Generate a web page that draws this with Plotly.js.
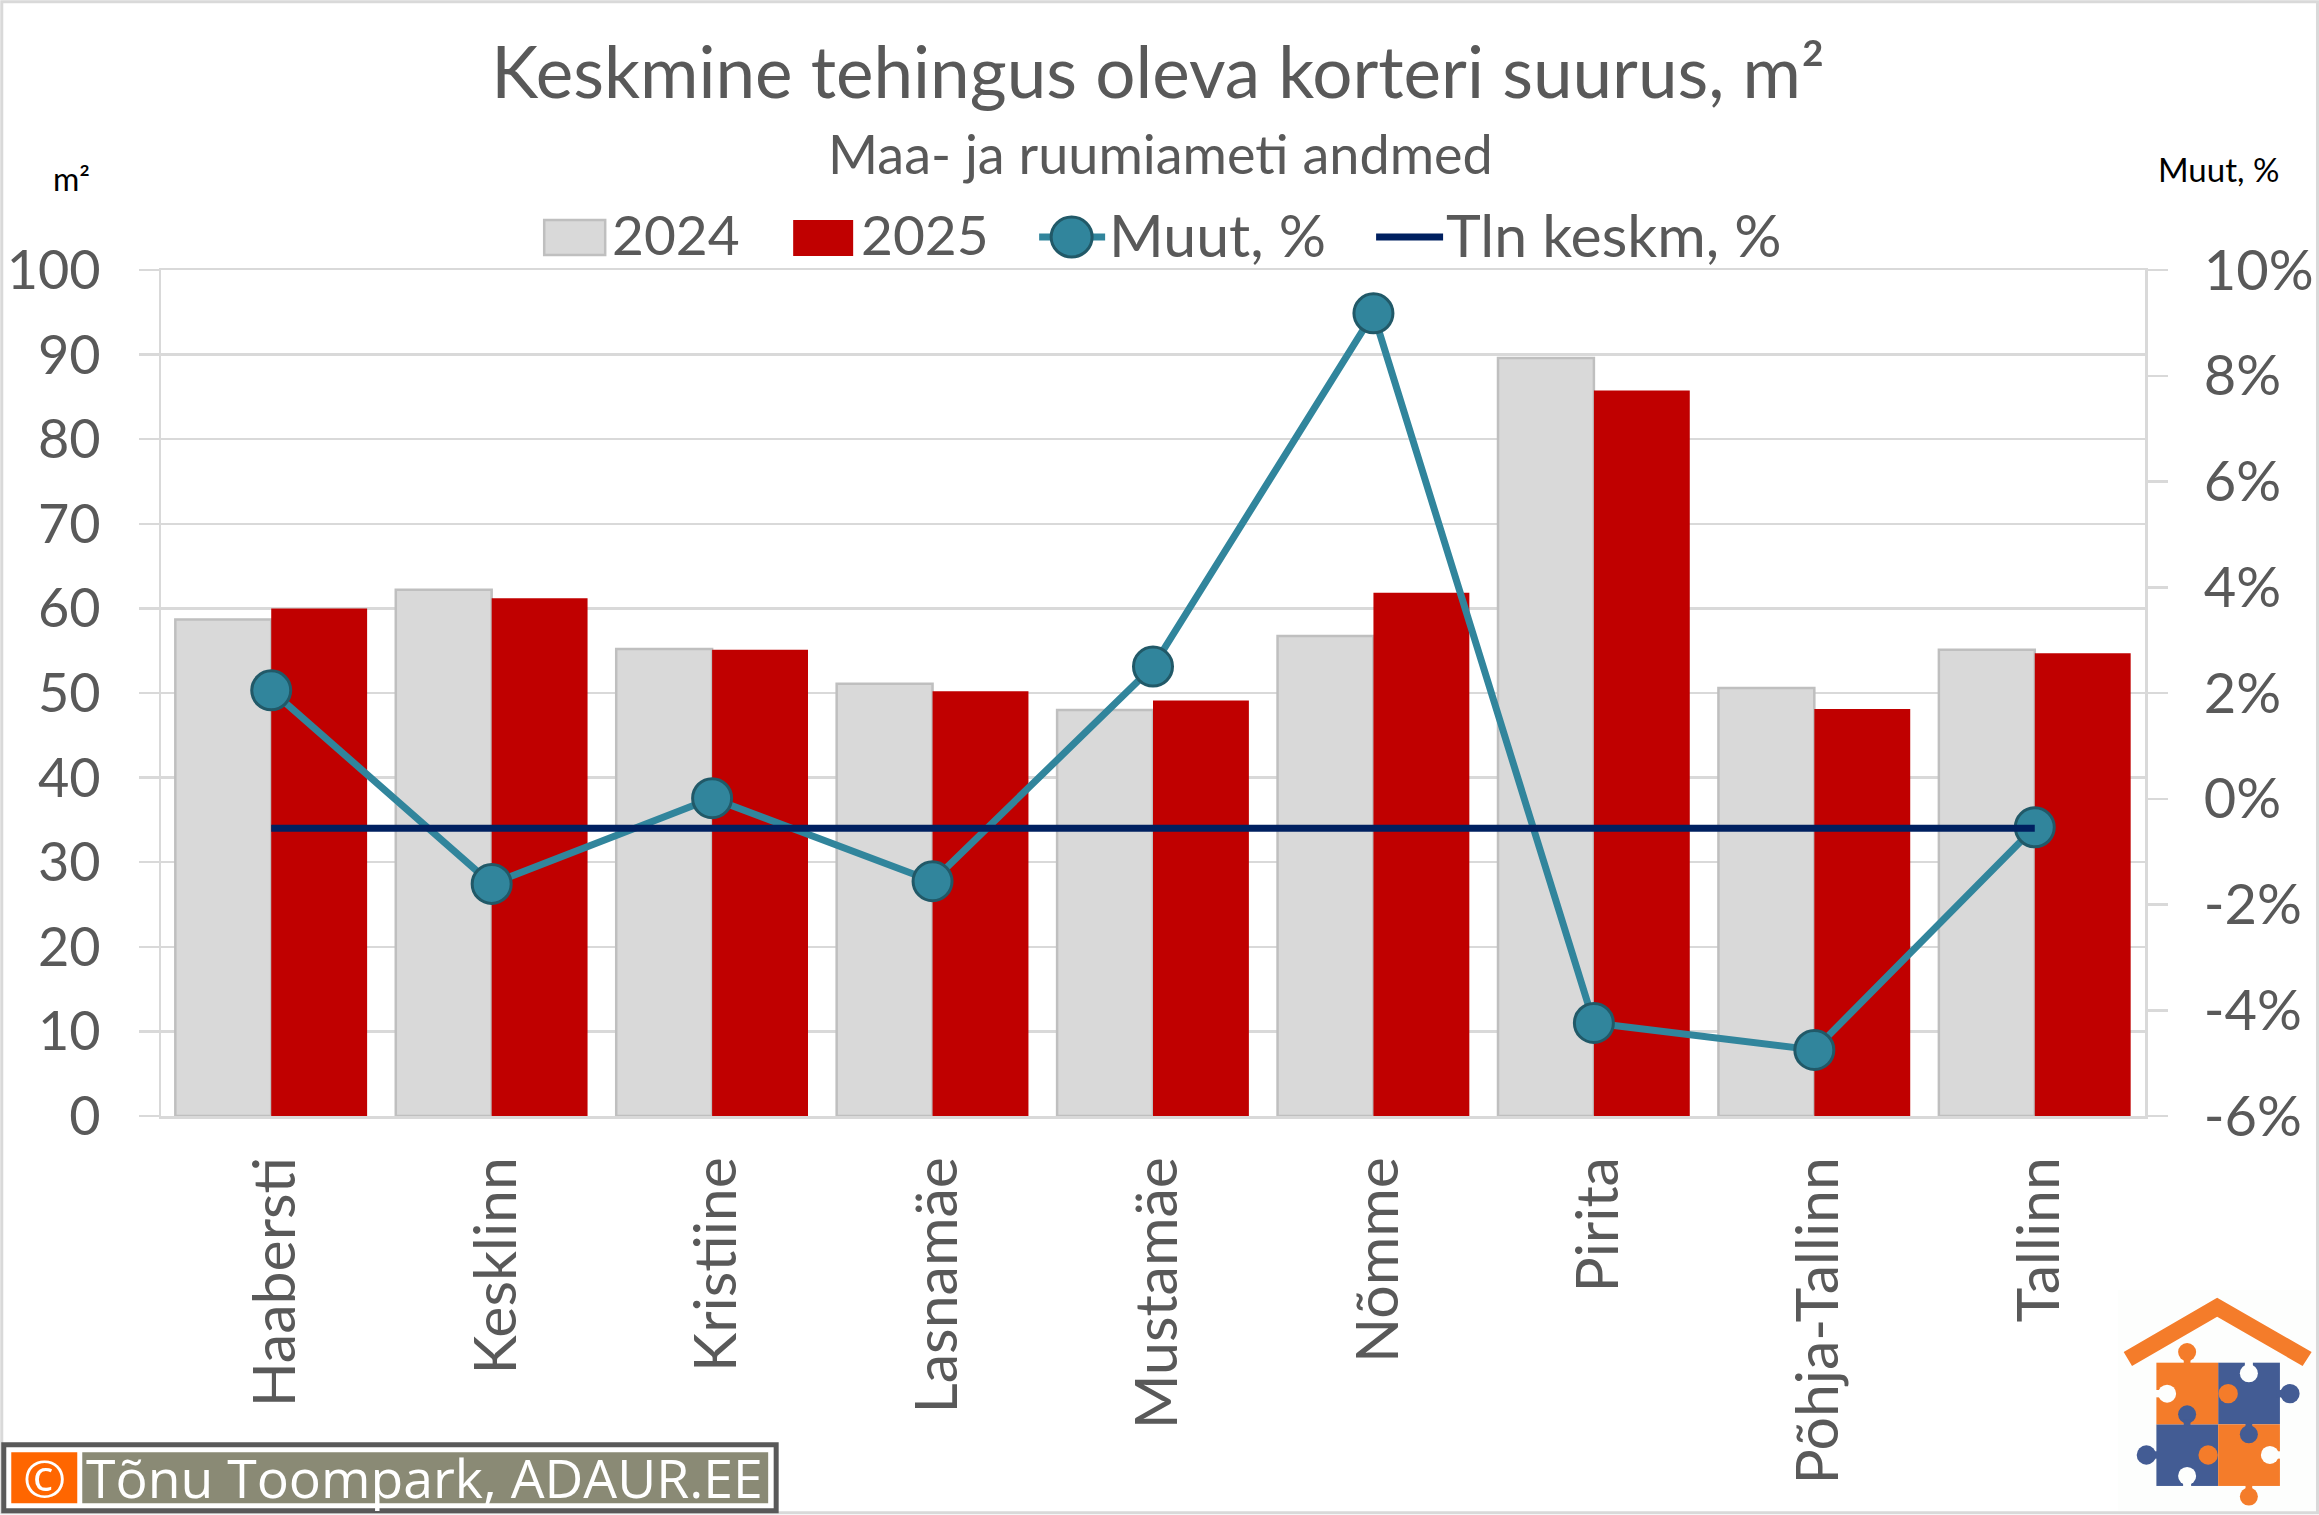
<!DOCTYPE html>
<html>
<head>
<meta charset="utf-8">
<script src="https://cdn.plot.ly/plotly-3.0.1.min.js"></script>
<style>html,body{margin:0;padding:0;background:#fff}#chart{width:2319px;height:1515px}</style>
</head>
<body>
<div id="chart"></div>
<script>
const categories = ["Haabersti","Kesklinn","Kristiine","Lasnamäe","Mustamäe","Nõmme","Pirita","Põhja-Tallinn","Tallinn"];
const values2024 = [58.7,62.2,55.2,51.1,48.0,56.75,89.6,50.6,55.1];
const values2025 = [60.0,61.2,55.1,50.2,49.1,61.85,85.75,48.1,54.7];
const muut = [2.05,-1.61,0.01,-1.56,2.5,9.18,-4.24,-4.75,-0.54];
const tlnKeskm = [-0.56,-0.56,-0.56,-0.56,-0.56,-0.56,-0.56,-0.56,-0.56];
const leftTicks = [0,10,20,30,40,50,60,70,80,90,100];
const rightTickVals = [-6,-4,-2,0,2,4,6,8,10];
const rightTickText = ["-6%","-4%","-2%","0%","2%","4%","6%","8%","10%"];
const titleText = "Keskmine tehingus oleva korteri suurus, m²";
const subtitleText = "Maa- ja ruumiameti andmed";
const creditText = "Tõnu Toompark, ADAUR.EE";

const W=2319,H=1515, L=160.75,R=174,T=270,B=398.5;
const PW=W-L-R, PH=H-T-B;
const px=x=>(x-L)/PW, py=y=>(T+PH-y)/PH;
const grey="#595959", fontF="Lato, Carlito, sans-serif";

function rect(x0,y0,x1,y1,fill,lineC,lw){return {type:'rect',xref:'paper',yref:'paper',x0:px(x0),x1:px(x1),y0:py(y0),y1:py(y1),fillcolor:fill,line:{color:lineC||fill,width:lw||0}};}
function seg(x0,y0,x1,y1,c,lw){return {type:'line',xref:'paper',yref:'paper',x0:px(x0),x1:px(x1),y0:py(y0),y1:py(y1),line:{color:c,width:lw}};}
function ann(text,x,y,size,color,anchor,family){return {text,xref:'paper',yref:'paper',x:px(x),y:py(y),xanchor:anchor||'left',yanchor:'middle',showarrow:false,font:{family:family||fontF,size,color}};}

const traces=[
 {type:'bar',name:'2024',x:categories,y:values2024,marker:{color:'#D9D9D9',line:{color:'#BFBFBF',width:2.5}}},
 {type:'bar',name:'2025',x:categories,y:values2025,marker:{color:'#C00000',line:{width:0}}},
 {type:'scatter',mode:'lines+markers',name:'Muut, %',x:categories,y:muut,yaxis:'y2',line:{color:'#31859C',width:7},marker:{size:39,color:'#31859C',line:{color:'#215968',width:3}}},
 {type:'scatter',mode:'lines',name:'Tln keskm, %',x:categories,y:tlnKeskm,yaxis:'y2',line:{color:'#002060',width:7}}
];

const logo=`<svg xmlns="http://www.w3.org/2000/svg" viewBox="115 90 602 675" preserveAspectRatio="none">
<rect x="115" y="90" width="602" height="675" fill="#fdfefd"/>
<polygon points="412,115 132,278 157,320 412,172 668,320 695,278" fill="#F47C2A"/>
<g fill="#435C94"><rect x="415" y="310" width="185" height="185"/><circle cx="630" cy="403" r="29"/><rect x="590" y="392" width="25" height="22"/>
<rect x="230" y="495" width="185" height="185"/><circle cx="200" cy="587" r="29"/><rect x="215" y="576" width="20" height="22"/></g>
<g fill="#F47C2A"><rect x="230" y="310" width="185" height="185"/><circle cx="322" cy="278" r="27"/><rect x="312" y="295" width="20" height="20"/><circle cx="445" cy="403" r="29"/>
<rect x="415" y="495" width="185" height="185"/><circle cx="385" cy="587" r="29"/><circle cx="507" cy="712" r="27"/><rect x="497" y="675" width="20" height="20"/></g>
<circle cx="322" cy="465" r="27" fill="#435C94"/><rect x="312" y="480" width="20" height="20" fill="#435C94"/>
<circle cx="507" cy="525" r="27" fill="#435C94"/><rect x="497" y="490" width="20" height="20" fill="#435C94"/>
<g fill="#fdfefd"><circle cx="507" cy="342" r="27"/><rect x="495" y="305" width="24" height="20"/><circle cx="262" cy="403" r="27"/><rect x="225" y="392" width="20" height="22"/><circle cx="322" cy="650" r="27"/><rect x="310" y="665" width="24" height="20"/><circle cx="570" cy="587" r="27"/><rect x="590" y="576" width="15" height="22"/></g>
</svg>`;

const shapes=[
 rect(1.5,1.5,W-1.5,H-1.5,'rgba(0,0,0,0)','#D9D9D9',3),
 rect(544,220,605,255,'#D9D9D9','#BFBFBF',2.5),
 rect(793,220,853,256,'#C00000'),
 seg(1039,237,1105,237,'#31859C',7),
 {type:'circle',xref:'paper',yref:'paper',x0:px(1051),x1:px(1092),y0:py(217),y1:py(257),fillcolor:'#31859C',line:{color:'#215968',width:3}},
 seg(1376,237,1443,237,'#002060',7),
 rect(3.5,1445.5,776,1511.5,'#FFFFFF','#595959',5),
 rect(11,1453,77,1504,'#FF6600'),
 rect(82,1453,768,1504,'#8A8A75')
];

const annotations=[
 ann(subtitleText,1160,153,54,grey,'center'),
 ann("2024",610,234,55,grey),
 ann("2025",859,234,55,grey),
 ann("Muut, %",1107,234,59,grey),
 ann("Tln keskm, %",1444,234,59,grey),
 ann("m²",71,178,32,'#000000','center'),
 ann("Muut, %",2219,169,33,'#000000','center'),
 ann("©",44,1478,52,'#FFFFFF','center','Open Sans'),
 ann(creditText,84,1478,53.5,'#FFFFFF','left','Open Sans')
];

const layout={
 width:W,height:H,margin:{l:L,r:R,t:T,b:B,pad:0},autosize:false,
 paper_bgcolor:'#fff',plot_bgcolor:'#fff',showlegend:false,
 barmode:'group',bargap:0.13,bargroupgap:0,
 font:{family:fontF,color:grey,size:54},
 title:{text:titleText,x:1158/W,xanchor:'center',y:1-73/H,yanchor:'middle',font:{family:fontF,size:71,color:grey}},
 xaxis:{type:'category',categoryorder:'array',categoryarray:categories,range:[-0.5,8.5],tickangle:-90,ticks:'',showline:true,mirror:true,linecolor:'#D9D9D9',linewidth:2.5,showgrid:false,zeroline:false,tickfont:{size:59,color:grey},ticklabelstandoff:15,ticklabelshift:5,automargin:false},
 yaxis:{range:[0,100],tickvals:leftTicks,ticks:'outside',ticklen:20,tickwidth:2.5,tickcolor:'#D9D9D9',showline:true,linecolor:'#D9D9D9',linewidth:2.5,showgrid:true,gridcolor:'#D9D9D9',gridwidth:2.5,zeroline:false,tickfont:{size:54,color:grey},ticklabelstandoff:27,automargin:false},
 yaxis2:{overlaying:'y',side:'right',range:[-6,10],tickvals:rightTickVals,ticktext:rightTickText,ticks:'outside',ticklen:20,tickwidth:2.5,tickcolor:'#D9D9D9',showline:true,linecolor:'#D9D9D9',linewidth:2.5,showgrid:false,zeroline:false,tickfont:{size:56,color:grey},ticklabelstandoff:25,automargin:false},
 shapes,annotations,
 images:[{source:'data:image/svg+xml;charset=utf-8,'+encodeURIComponent(logo),xref:'paper',yref:'paper',x:px(2118),y:py(1290),sizex:(2319-2118)/PW,sizey:225/PH,xanchor:'left',yanchor:'top',sizing:'stretch',layer:'above'}]
};
Plotly.newPlot('chart',traces,layout,{displayModeBar:false,staticPlot:true});
</script>
</body>
</html>
